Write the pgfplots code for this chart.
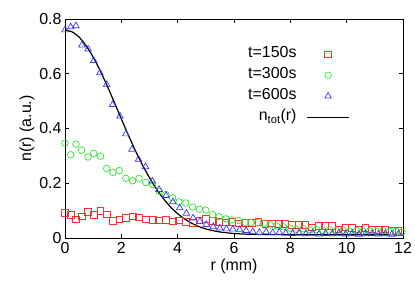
\documentclass[border=0pt]{standalone}
\usepackage{pgfplots}
\pgfplotsset{compat=1.18}
\usepackage{pgfplotstable}
\usepackage{fontspec}
\setmainfont{Liberation Sans}
\definecolor{cred}{RGB}{255,45,45}
\definecolor{cgreen}{RGB}{45,225,45}
\definecolor{cblue}{RGB}{55,55,255}

\pgfplotstableread{
r n
0.00 0.092
0.20 0.084
0.39 0.068
0.59 0.079
0.82 0.096
1.02 0.084
1.26 0.100
1.48 0.087
1.70 0.063
1.93 0.068
2.16 0.074
2.40 0.079
2.63 0.076
2.87 0.068
3.11 0.067
3.34 0.065
3.58 0.067
3.82 0.061
4.05 0.065
4.29 0.060
4.53 0.055
4.77 0.064
5.00 0.070
5.24 0.063
5.47 0.060
5.71 0.057
5.92 0.060
6.16 0.054
6.40 0.056
6.63 0.056
6.87 0.060
7.11 0.051
7.34 0.053
7.58 0.051
7.82 0.051
8.05 0.047
8.29 0.047
8.53 0.047
8.76 0.039
9.00 0.044
9.24 0.044
9.47 0.044
9.71 0.032
9.95 0.039
10.18 0.036
10.42 0.032
10.66 0.036
10.89 0.032
11.13 0.029
11.37 0.032
11.60 0.027
11.84 0.026
}\tA

\pgfplotstableread{
r n
0.00 0.347
0.20 0.304
0.39 0.343
0.59 0.321
0.82 0.296
1.02 0.309
1.26 0.299
1.48 0.254
1.70 0.240
1.93 0.246
2.16 0.218
2.40 0.209
2.63 0.218
2.87 0.203
3.11 0.195
3.34 0.171
3.58 0.159
3.82 0.147
4.05 0.132
4.29 0.128
4.53 0.113
4.77 0.105
5.00 0.102
5.24 0.085
5.47 0.078
5.71 0.070
5.92 0.066
6.16 0.064
6.40 0.057
6.60 0.056
6.84 0.056
7.08 0.054
7.29 0.047
7.52 0.044
7.75 0.041
7.99 0.036
8.22 0.032
8.46 0.034
8.70 0.029
8.93 0.031
9.17 0.027
9.40 0.029
9.64 0.026
9.88 0.028
10.11 0.025
10.35 0.027
10.58 0.025
10.82 0.026
11.05 0.024
11.29 0.026
11.53 0.023
11.76 0.024
11.96 0.022
}\tB

\pgfplotstableread{
r n
0.00 0.760
0.20 0.771
0.39 0.775
0.60 0.705
0.82 0.690
1.02 0.648
1.24 0.603
1.48 0.560
1.69 0.487
1.95 0.445
2.16 0.380
2.38 0.324
2.61 0.287
2.86 0.260
3.10 0.208
3.34 0.177
3.59 0.155
3.83 0.132
4.07 0.110
4.31 0.090
4.55 0.073
4.79 0.061
5.02 0.049
5.26 0.041
5.50 0.036
5.73 0.033
5.96 0.032
6.20 0.030
6.43 0.027
6.67 0.023
6.90 0.020
7.14 0.022
7.37 0.019
7.61 0.021
7.84 0.018
8.08 0.016
8.31 0.018
8.55 0.015
8.78 0.017
9.02 0.014
9.25 0.016
9.49 0.015
9.72 0.017
9.96 0.014
10.19 0.016
10.43 0.013
10.66 0.015
10.90 0.016
11.13 0.014
11.37 0.015
11.60 0.013
11.84 0.015
}\tC

\pgfplotstableread{
r n
0.00 0.760
0.25 0.753
0.50 0.734
0.75 0.702
1.00 0.661
1.25 0.611
1.50 0.555
1.75 0.496
2.00 0.435
2.25 0.376
2.50 0.319
2.75 0.267
3.00 0.220
3.25 0.178
3.50 0.143
3.75 0.113
4.00 0.089
4.25 0.069
4.50 0.054
4.75 0.042
5.00 0.033
5.25 0.027
5.50 0.022
5.75 0.019
6.00 0.0164
6.50 0.0138
7.00 0.0127
8.00 0.0121
9.00 0.0120
10.00 0.0120
11.00 0.0120
12.00 0.0120
}\tD

\begin{document}
\begin{tikzpicture}
\path[use as bounding box] (-65bp,-53bp) rectangle (350bp,238bp);
\begin{axis}[
  at={(0,0)}, anchor=south west,
  scale only axis, width=338bp, height=219bp,
  xmin=0, xmax=12, ymin=0, ymax=0.8,
  xtick={0,2,4,6,8,10,12},
  ytick={0,0.2,0.4,0.6,0.8},
  tick align=inside, major tick length=4bp,
  axis line style={line width=0.8bp},
  every tick/.style={black, line width=0.6bp},
  font=\fontsize{16}{18}\selectfont,
  /pgf/number format/assume math mode=true,
  xticklabel style={yshift=-1bp},
  xlabel={r (mm)}, ylabel={n(r) (a.u.)},
  xlabel style={yshift=2bp},
  ylabel style={yshift=-2bp},
  legend plot pos=right,
  legend cell align=right,
  legend image code/.code={\draw[mark repeat=2,mark phase=2,#1] plot coordinates {(0bp,0bp) (21bp,0bp) (42bp,0bp)};},
  legend style={draw=none, fill=none, at={(rel axis cs:0.843,0.87)}, anchor=north east,
    inner sep=0pt, column sep=10bp, row sep=8bp,
    nodes={inner sep=0pt, text height=10bp, text depth=3bp}},
]
\addplot[only marks, mark=square, mark size=3.3bp, cred, line width=0.7bp] table[x=r,y=n] {\tA};
\addlegendentry{t=150s}
\addplot[only marks, mark=o, mark size=3.3bp, cgreen, line width=0.7bp] table[x=r,y=n] {\tB};
\addlegendentry{t=300s}
\addplot[only marks, mark=triangle, mark size=3.8bp, cblue, line width=0.7bp] table[x=r,y=n] {\tC};
\addlegendentry{t=600s}
\addplot[black, line width=1.2bp, smooth, no marks] table[x=r,y=n] {\tD};
\addlegendentry{n\textsubscript{tot}(r)}
\end{axis}
\end{tikzpicture}
\end{document}
